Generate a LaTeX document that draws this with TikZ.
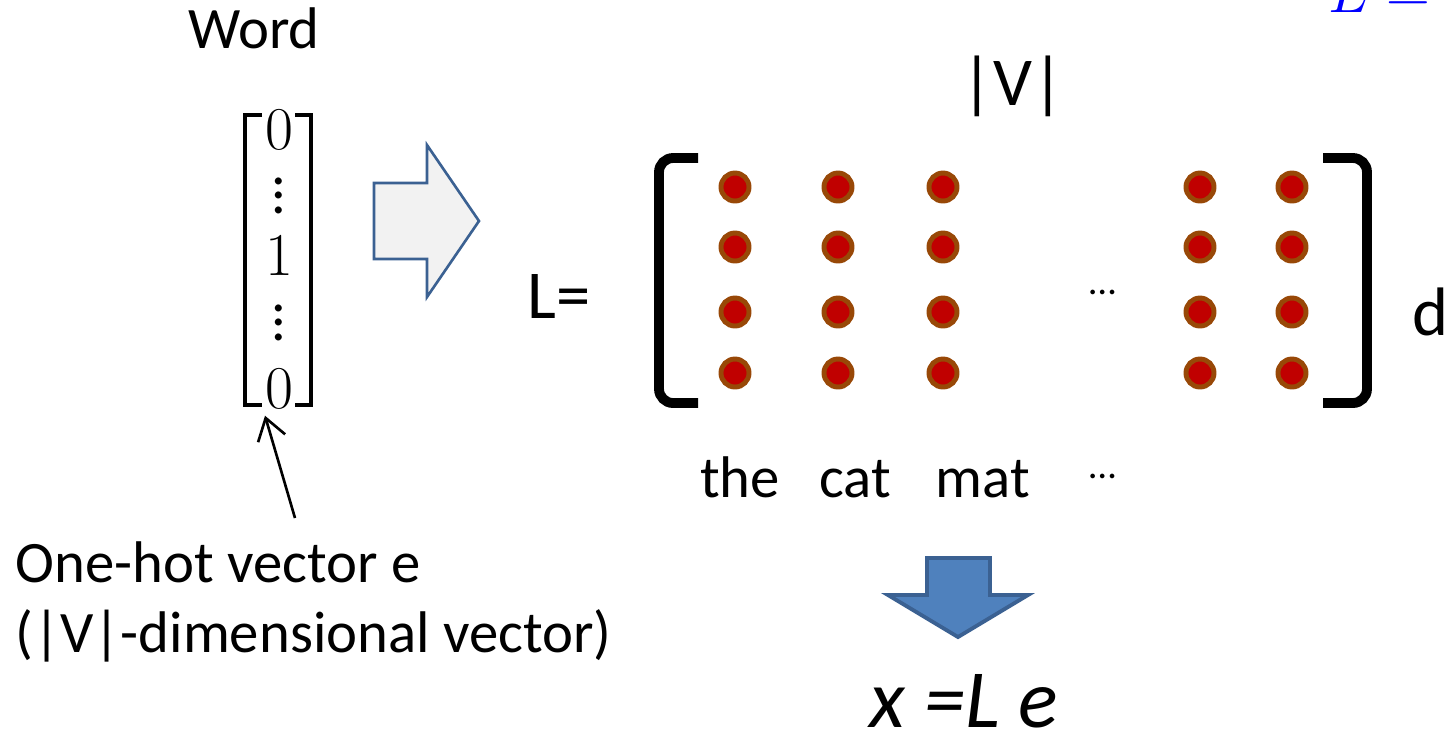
\documentclass[tikz,border=0pt]{standalone}
\usepackage{amsmath}
\usepackage{fontspec}
\setmainfont{Carlito}
\usetikzlibrary{arrows.meta,calc}

\definecolor{dotred}{HTML}{C00000}
\definecolor{dotrim}{HTML}{984807}
\definecolor{arrline}{HTML}{3B6192}
\definecolor{arrfill}{HTML}{4F81BD}

\tikzset{
  lbl/.style={font=\fontsize{16.7}{20}\selectfont, inner sep=0pt},
  biglbl/.style={font=\fontsize{19.5}{23}\selectfont, inner sep=0pt},
  emb/.style={circle, draw=dotrim, fill=dotred, line width=1.4pt,
    minimum size=0.28cm, inner sep=0pt},
  vecent/.style={font=\fontsize{16.5}{19}\selectfont, inner sep=0pt, text height=0.34cm, text depth=0pt},
  vecdots/.style={vecent, text height=0.3cm, text depth=0pt},
}

\begin{document}
\begin{tikzpicture}[x=0.01cm,y=-0.01cm]
  \useasboundingbox (0,0) rectangle (1447,735);
  \clip (0,0) rectangle (1447,735);

  % One-hot vector
  \node[lbl, anchor=base] (word) at (254,48) {Word};
  \draw[line width=1.4pt] (262,115) -- (245,115) -- (245,405) -- (262,405);
  \draw[line width=1.4pt] (295,115) -- (311,115) -- (311,405) -- (295,405);
  \node[vecent] (ztop) at (279,132) {$0$};
  \node[vecdots] (vd1) at (279,198) {$\vdots$};
  \node[vecent] (one) at (279,258) {$1$};
  \node[vecdots] (vd2) at (279,325) {$\vdots$};
  \node[vecent] (zlow) at (279,391) {$0$};

  % Pointer to the vector
  \node[lbl, anchor=base west] (onehot) at (15,582) {One-hot vector e};
  \node[lbl, anchor=base west] (dimtxt) at (15,652) {(|V|-dimensional vector)};
  \coordinate (tail) at (295,518);
  \draw[line width=0.75pt, -{Straight Barb[length=6pt,width=8pt]}] (tail) -- ($(zlow.south)+(-14,7)$);

  % Hollow arrow
  \draw[arrline, fill=black!5, line width=0.75pt]
    (374,183) -- (427,183) -- (427,145) -- (479,221) -- (427,297) -- (427,259) -- (374,259) -- cycle;

  % Embedding matrix
  \node[biglbl, anchor=base] (leq) at (559,318) {L=};
  \node[biglbl, anchor=base] (vsize) at (1013,105) {|V|};
  \draw[line width=2.8pt, rounded corners=4pt] (698,158) -- (659,158) -- (659,403) -- (698,403);
  \draw[line width=2.8pt, rounded corners=4pt] (1323,158) -- (1367,158) -- (1367,403) -- (1323,403);
  \foreach \cx [count=\i] in {735,838,943,1200,1292}
    \foreach \cy [count=\j] in {187,247,312,373}
      \node[emb] (dot\i\j) at (\cx,\cy) {};
  \node[lbl, font=\fontsize{11}{13}\selectfont] (hdots) at (1103,292) {\dots};
  \node[biglbl, anchor=base] (dlab) at (1431,335) {d};

  % Column words
  \node[lbl, anchor=base] (wthe) at (740,497) {the};
  \node[lbl, anchor=base] (wcat) at (855,497) {cat};
  \node[lbl, anchor=base] (wmat) at (983,497) {mat};
  \node[lbl, font=\fontsize{11}{13}\selectfont] (wdots) at (1103,476) {\dots};

  % Lookup
  \draw[arrline, fill=arrfill, line width=1.1pt]
    (927,558) -- (990,558) -- (990,595) -- (1028,595) -- (958,637) -- (888,595) -- (927,595) -- cycle;
  \node[lbl, anchor=base, font=\fontsize{23.5}{28}\itshape, text depth=0pt] (xle) at (964,727) {x =L e};

  % Cut-off formula
  \node[anchor=base west, text=blue, font=\fontsize{18}{20}\selectfont, inner sep=0pt] (lform) at (1328,12) {$L=$};
\end{tikzpicture}
\end{document}
